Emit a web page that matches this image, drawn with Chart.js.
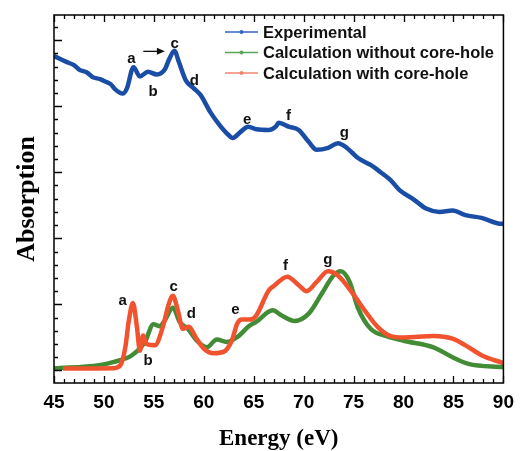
<!DOCTYPE html>
<html>
<head>
<meta charset="utf-8">
<script src="https://cdn.jsdelivr.net/npm/chart.js@4.4.1/dist/chart.umd.min.js"></script>
<style>
  body { margin: 0; background: #fff; }
  #wrap { width: 522px; height: 451px; }
</style>
</head>
<body>
<div id="wrap"><canvas id="absChart" width="522" height="451"></canvas></div>
<script>
// Experimental spectrum (energy in eV, absorption in arbitrary units)
const expEnergy = [45, 46.25, 47.0, 47.55, 48.3, 48.86, 49.6, 50.18, 50.7, 51.16, 51.88, 52.3, 52.96, 53.6, 54.4, 55.3, 56.07, 56.56, 57.05, 57.5, 58.2, 59.0, 59.67, 60.65, 61.6, 62.3, 62.9, 63.6, 64.45, 65.26, 66.5, 67.2, 67.5, 68.5, 69.5, 70.5, 71.3, 72.45, 73.44, 74.4, 75.4, 76.7, 77.7, 78.7, 79.6, 81, 82.25, 83.6, 84.9, 86.2, 87.8, 89.8, 90];
const expAbs = [4.76, 4.67, 4.62, 4.55, 4.51, 4.44, 4.41, 4.37, 4.33, 4.25, 4.19, 4.27, 4.59, 4.45, 4.52, 4.48, 4.55, 4.72, 4.84, 4.67, 4.39, 4.27, 4.17, 3.91, 3.71, 3.59, 3.52, 3.60, 3.69, 3.65, 3.64, 3.69, 3.75, 3.69, 3.64, 3.46, 3.34, 3.37, 3.44, 3.36, 3.22, 3.11, 3.00, 2.88, 2.73, 2.59, 2.45, 2.40, 2.42, 2.35, 2.31, 2.22, 2.22];

// Calculation without core-hole
const noHoleEnergy = [45, 49.5, 51, 52.8, 54.1, 54.96, 55.6, 56.1, 56.9, 57.6, 58.4, 59.3, 60.3, 61.3, 62.3, 63.3, 64.6, 65.2, 66.9, 67.8, 69.1, 70.5, 71.8, 73, 73.7, 74.6, 75.4, 76.7, 78.3, 80, 83, 84.9, 86.5, 90];
const noHoleAbs = [0.03, 0.08, 0.13, 0.23, 0.43, 0.70, 0.67, 0.76, 0.95, 0.73, 0.63, 0.45, 0.35, 0.47, 0.43, 0.50, 0.68, 0.73, 0.91, 0.83, 0.75, 0.86, 1.16, 1.44, 1.50, 1.34, 0.96, 0.63, 0.52, 0.45, 0.35, 0.20, 0.10, 0.05];

// Calculation with core-hole
const holeEnergy = [45.9, 48, 51, 51.65, 52.14, 52.5, 52.9, 53.3, 53.6, 53.93, 54.26, 55.1, 55.9, 56.5, 56.9, 57.4, 57.9, 58.5, 59.2, 60, 61, 61.96, 62.8, 63.35, 63.8, 64.6, 65.2, 66.5, 67.1, 68.35, 69.5, 70.3, 71.3, 72.45, 73.4, 74.8, 76.1, 77.4, 78.7, 80, 83, 84.9, 86.2, 87.8, 90];
const holeAbs = [0.03, 0.03, 0.035, 0.08, 0.35, 0.76, 1.02, 0.66, 0.30, 0.53, 0.40, 0.38, 0.66, 1.01, 1.13, 0.91, 0.63, 0.66, 0.50, 0.33, 0.26, 0.28, 0.45, 0.71, 0.77, 0.77, 0.82, 1.21, 1.29, 1.42, 1.29, 1.20, 1.34, 1.50, 1.44, 1.19, 0.91, 0.66, 0.52, 0.50, 0.52, 0.48, 0.38, 0.23, 0.11];

// Peak letters: [label, energy, absorption]
const expPeaks = [['a', 52.76, 4.71], ['b', 54.92, 4.21], ['c', 57.08, 4.94], ['d', 59.05, 4.39], ['e', 64.35, 3.80], ['f', 68.48, 3.86], ['g', 74.08, 3.59]];
const calcPeaks = [['a', 51.88, 1.06], ['b', 54.43, 0.14], ['c', 56.98, 1.26], ['d', 58.75, 0.86], ['e', 63.17, 0.91], ['f', 68.18, 1.58], ['g', 72.41, 1.67]];
const shiftArrow = [53.94, 56.1, 4.83];

const toXY = (xs, ys) => xs.map((x, i) => ({ x: x, y: ys[i] }));

// inward ticks, box frame, legend, peak letters
const decorations = {
  id: 'decorations',
  afterDatasetsDraw(chart) {
    const { ctx, chartArea: a, scales: { x, y } } = chart;
    ctx.save();
    ctx.strokeStyle = '#000';
    ctx.lineWidth = 1.3;
    ctx.beginPath();
    for (let e = 45; e <= 90; e++) {
      const px = Math.round(x.getPixelForValue(e)) + 0.5;
      const len = e % 5 === 0 ? 7 : 4;
      ctx.moveTo(px, a.bottom); ctx.lineTo(px, a.bottom - len);
      ctx.moveTo(px, a.top); ctx.lineTo(px, a.top + len);
    }
    for (let k = 0; k <= 26; k++) {
      const py = Math.round(y.getPixelForValue(k * 0.2)) + 0.5;
      if (py < a.top + 2) continue;
      const len = k % 5 === 0 ? 8 : 4;
      ctx.moveTo(a.left, py); ctx.lineTo(a.left + len, py);
    }
    ctx.stroke();
    ctx.lineWidth = 1.5;
    ctx.strokeRect(a.left, a.top, a.right - a.left, a.bottom - a.top);
    ctx.restore();
  },
  afterDraw(chart) {
    const { ctx, scales: { x, y } } = chart;
    ctx.save();
    ctx.fillStyle = '#111';
    ctx.font = 'bold 15px "Liberation Sans", Arial, sans-serif';
    ctx.textAlign = 'center';
    ctx.textBaseline = 'middle';
    expPeaks.concat(calcPeaks).forEach(([t, e, v]) => {
      ctx.fillText(t, x.getPixelForValue(e), y.getPixelForValue(v));
    });

    // arrow showing the shift of peak c
    const ax0 = x.getPixelForValue(shiftArrow[0]);
    const ax1 = x.getPixelForValue(shiftArrow[1]);
    const ay = y.getPixelForValue(shiftArrow[2]);
    ctx.strokeStyle = '#111';
    ctx.lineWidth = 1.3;
    ctx.beginPath();
    ctx.moveTo(ax0, ay); ctx.lineTo(ax1 - 6, ay);
    ctx.stroke();
    ctx.beginPath();
    ctx.moveTo(ax1, ay); ctx.lineTo(ax1 - 8, ay - 3.5); ctx.lineTo(ax1 - 8, ay + 3.5);
    ctx.closePath();
    ctx.fill();

    // legend
    const items = chart.data.datasets.slice().sort((p, q) => p.legendIndex - q.legendIndex);
    ctx.textAlign = 'left';
    ctx.font = 'bold 16.5px "Liberation Sans", Arial, sans-serif';
    items.forEach((ds, i) => {
      const ly = 32 + i * 20.5;
      ctx.strokeStyle = ds.legendColor;
      ctx.fillStyle = ds.legendColor;
      ctx.lineWidth = 1.5;
      ctx.beginPath();
      ctx.moveTo(225, ly); ctx.lineTo(258, ly);
      ctx.stroke();
      ctx.beginPath();
      ctx.arc(241.5, ly, 2, 0, Math.PI * 2);
      ctx.fill();
      ctx.fillStyle = '#111';
      ctx.fillText(ds.label, 263, ly + 1);
    });
    ctx.restore();
  }
};

const ctx = document.getElementById('absChart').getContext('2d');
const absChart = new Chart(ctx, {
  type: 'line',
  data: {
    datasets: [
      {
        label: 'Calculation with core-hole',
        data: toXY(holeEnergy, holeAbs),
        borderColor: '#f2532f',
        legendColor: '#f08470',
        legendIndex: 2,
        borderWidth: 4.5,
        order: 1
      },
      {
        label: 'Calculation without core-hole',
        data: toXY(noHoleEnergy, noHoleAbs),
        borderColor: '#428c36',
        legendColor: '#5aa55a',
        legendIndex: 1,
        borderWidth: 4.5,
        order: 2
      },
      {
        label: 'Experimental',
        data: toXY(expEnergy, expAbs),
        borderColor: '#1a4ea6',
        legendColor: '#3565c2',
        legendIndex: 0,
        borderWidth: 4.5,
        order: 0
      }
    ]
  },
  options: {
    responsive: false,
    animation: false,
    layout: { padding: { top: 15, right: 10, left: 0, bottom: 0 } },
    elements: {
      point: { radius: 0 },
      line: { cubicInterpolationMode: 'monotone', fill: false }
    },
    plugins: {
      legend: { display: false },
      tooltip: { enabled: false }
    },
    scales: {
      x: {
        type: 'linear',
        min: 45,
        max: 90,
        afterFit: s => { s.height = 68; },
        ticks: {
          stepSize: 5,
          padding: 8,
          maxRotation: 0,
          color: '#000',
          font: { family: '"Liberation Sans", Arial, sans-serif', size: 19, weight: 'bold' }
        },
        grid: { display: false, drawTicks: false },
        border: { display: false },
        title: {
          display: true,
          text: 'Energy (eV)',
          color: '#000',
          padding: 0,
          font: { family: '"Liberation Serif", "Times New Roman", serif', size: 23, weight: 'bold', lineHeight: 1 }
        }
      },
      y: {
        min: -0.19,
        max: 5.38,
        afterFit: s => { s.width = 54; },
        ticks: { display: false },
        grid: { display: false, drawTicks: false },
        border: { display: false },
        title: {
          display: true,
          text: 'Absorption',
          color: '#000',
          padding: { top: 14, bottom: 0 },
          font: { family: '"Liberation Serif", "Times New Roman", serif', size: 26, weight: 'bold', lineHeight: 1 }
        }
      }
    }
  },
  plugins: [decorations]
});
</script>
</body>
</html>
